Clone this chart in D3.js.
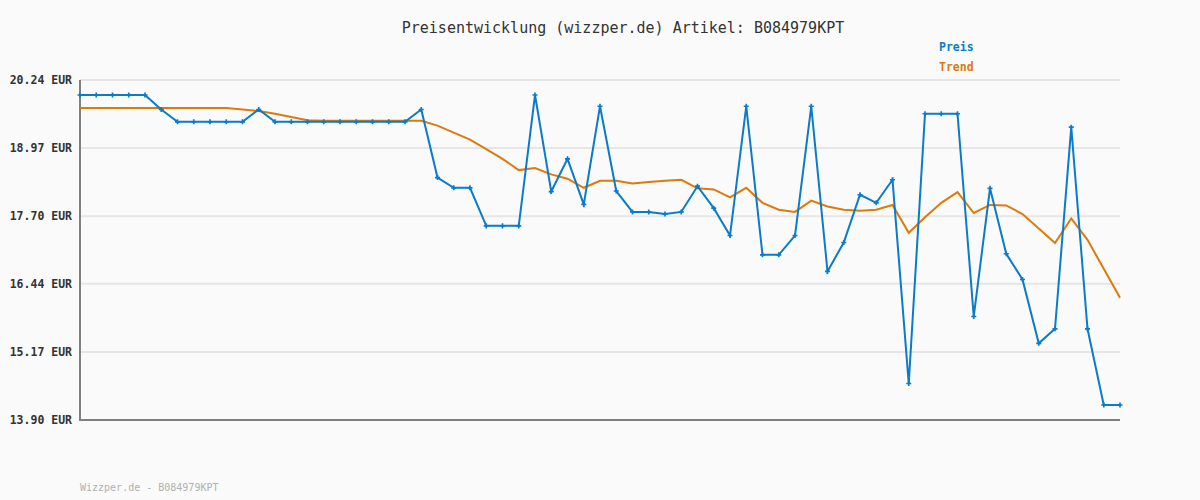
<!DOCTYPE html>
<html>
<head>
<meta charset="utf-8">
<script src="https://cdn.jsdelivr.net/npm/d3@7"></script>
<style>
  body { margin: 0; background: #fafafa; }
  svg { display: block; }
  text { font-family: "DejaVu Sans Mono", "Liberation Mono", monospace; }
</style>
</head>
<body>
<div id="chart"></div>
<script>
'use strict'
// y axis tick labels (EUR)
var yTicks = [13.90, 15.17, 16.44, 17.70, 18.97, 20.24]

// price per observation
var preis = [
  19.96, 19.96, 19.96, 19.96, 19.96, 19.69, 19.46, 19.46, 19.46, 19.46,
  19.46, 19.69, 19.46, 19.46, 19.46, 19.46, 19.46, 19.46, 19.46, 19.46,
  19.46, 19.69, 18.42, 18.23, 18.23, 17.52, 17.52, 17.52, 19.96, 18.16,
  18.77, 17.92, 19.75, 18.17, 17.78, 17.78, 17.74, 17.78, 18.26, 17.85,
  17.34, 19.75, 16.98, 16.98, 17.34, 19.75, 16.67, 17.21, 18.10, 17.95,
  18.38, 14.58, 19.61, 19.61, 19.61, 15.83, 18.22, 17.00, 16.52, 15.33,
  15.60, 19.36, 15.60, 14.18, 14.18
]
// trend line
var trend = [
  19.72, 19.72, 19.72, 19.72, 19.72, 19.72, 19.72, 19.72, 19.72, 19.72,
  19.69, 19.66, 19.61, 19.55, 19.49, 19.48, 19.48, 19.48, 19.48, 19.48,
  19.48, 19.48, 19.39, 19.26, 19.13, 18.95, 18.77, 18.56, 18.60, 18.48,
  18.40, 18.23, 18.36, 18.36, 18.31, 18.34, 18.36, 18.38, 18.22, 18.20,
  18.05, 18.23, 17.95, 17.82, 17.78, 17.99, 17.88, 17.82, 17.80, 17.82,
  17.91, 17.39, 17.68, 17.95, 18.15, 17.76, 17.91, 17.90, 17.74, 17.47,
  17.20, 17.66, 17.26, 16.72, 16.18
]

var W = 1200, H = 500
var m = {left: 80, right: 1120, top: 80, bottom: 420}
var blue = '#0a7bc9', orange = '#dd7a0c'

var svg = d3.select('#chart').append('svg')
  .attr('width', W).attr('height', H)
  .style('background', '#fafafa')

var x = d3.scaleLinear().domain([0, preis.length - 1]).range([m.left, m.right])
var y = d3.scaleLinear().domain([13.90, 20.24]).range([m.bottom, m.top])

// grid
svg.append('g').selectAll('line').data(yTicks).enter().append('line')
  .attr('x1', m.left).attr('x2', m.right)
  .attr('y1', d => y(d)).attr('y2', d => y(d))
  .attr('stroke', '#e6e6e6').attr('stroke-width', 2)

// y labels
svg.append('g').selectAll('text').data(yTicks).enter().append('text')
  .attr('x', 72).attr('y', d => y(d) + 4)
  .attr('text-anchor', 'end')
  .attr('font-size', 11.5).attr('font-weight', 'bold').attr('fill', '#333')
  .text(d => d.toFixed(2) + ' EUR')

// axes
svg.append('line').attr('x1', m.left).attr('x2', m.left).attr('y1', m.top).attr('y2', m.bottom + 1)
  .attr('stroke', '#808080').attr('stroke-width', 2)
svg.append('line').attr('x1', m.left - 1).attr('x2', m.right).attr('y1', m.bottom).attr('y2', m.bottom)
  .attr('stroke', '#808080').attr('stroke-width', 2)

var line = d3.line().x((d, i) => x(i)).y(d => y(d))

svg.append('path').attr('d', line(trend))
  .attr('fill', 'none').attr('stroke', orange).attr('stroke-width', 2)

svg.append('path').attr('d', line(preis))
  .attr('fill', 'none').attr('stroke', blue).attr('stroke-width', 2)

// point markers
svg.append('g').selectAll('path').data(preis).enter().append('path')
  .attr('d', d3.symbol().type(d3.symbolCross).size(14))
  .attr('transform', (d, i) => `translate(${x(i)},${y(d)})`)
  .attr('fill', blue)

// title
svg.append('text').attr('x', 623).attr('y', 33).attr('text-anchor', 'middle')
  .attr('font-size', 15).attr('fill', '#333')
  .text('Preisentwicklung (wizzper.de) Artikel: B084979KPT')

// legend
svg.append('text').attr('x', 939).attr('y', 51).attr('font-size', 11.5)
  .attr('font-weight', 'bold').attr('fill', blue).text('Preis')
svg.append('text').attr('x', 939).attr('y', 71).attr('font-size', 11.5)
  .attr('font-weight', 'bold').attr('fill', orange).text('Trend')

// footer
svg.append('text').attr('x', 80).attr('y', 491).attr('font-size', 10)
  .attr('fill', '#b0b0b0').text('Wizzper.de - B084979KPT')
</script>
</body>
</html>
